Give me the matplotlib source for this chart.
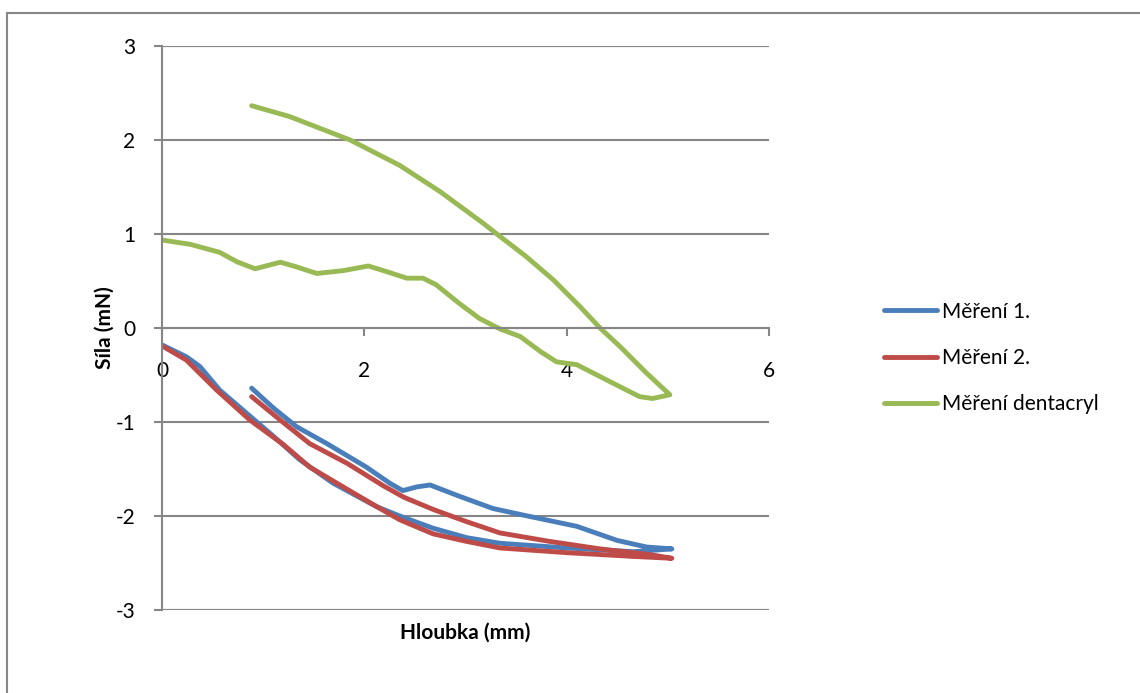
import matplotlib.pyplot as plt
from matplotlib.patches import Rectangle

plt.rcParams['font.family'] = ['Lato', 'DejaVu Sans']

# Měření 1. - one loop: loading branch from 0, then return branch back to ~0.9
m1_x = [0.0, 0.24, 0.375, 0.57, 0.84, 1.10, 1.36, 1.69, 2.12, 2.35, 2.68, 3.01, 3.34, 4.0, 4.66, 5.04,
        4.79, 4.5, 4.10, 3.57, 3.27, 2.94, 2.65, 2.52, 2.38, 2.25, 2.02, 1.63, 1.33, 1.10, 0.886]
m1_y = [-0.18, -0.305, -0.41, -0.66, -0.91, -1.15, -1.40, -1.65, -1.90, -2.0, -2.13, -2.23, -2.29, -2.34, -2.38, -2.35,
        -2.33, -2.26, -2.11, -1.99, -1.92, -1.79, -1.67, -1.69, -1.73, -1.65, -1.48, -1.23, -1.05, -0.85, -0.64]

# Měření 2.
m2_x = [0.0, 0.24, 0.54, 0.87, 1.20, 1.46, 1.79, 2.09, 2.35, 2.68, 3.01, 3.34, 4.0, 4.66, 5.04,
        4.82, 4.33, 3.83, 3.34, 3.01, 2.68, 2.39, 2.19, 1.83, 1.46, 1.17, 0.886]
m2_y = [-0.19, -0.34, -0.66, -0.98, -1.24, -1.48, -1.69, -1.88, -2.04, -2.19, -2.27, -2.34, -2.39, -2.43, -2.45,
        -2.41, -2.35, -2.27, -2.18, -2.06, -1.93, -1.80, -1.68, -1.44, -1.23, -0.98, -0.73]

# Měření dentacryl
md_x = [0.0, 0.28, 0.57, 0.74, 0.92, 1.17, 1.33, 1.53, 1.79, 2.04, 2.22, 2.42, 2.58, 2.71, 2.94, 3.14, 3.34, 3.54,
        3.74, 3.90, 4.10, 4.39, 4.72, 4.85, 5.02,
        4.79, 4.53, 4.33, 4.13, 3.87, 3.60, 3.31, 3.18, 2.75, 2.35, 1.86, 1.26, 0.886]
md_y = [0.936, 0.89, 0.805, 0.705, 0.63, 0.70, 0.65, 0.58, 0.61, 0.66, 0.60, 0.53, 0.53, 0.46, 0.26, 0.10, -0.01, -0.09,
        -0.25, -0.36, -0.39, -0.55, -0.73, -0.75, -0.71,
        -0.48, -0.20, 0.0, 0.23, 0.51, 0.76, 1.0, 1.11, 1.45, 1.73, 2.0, 2.25, 2.365]

labels = ['Měření 1.', 'Měření 2.', 'Měření dentacryl']
colors = ['#4A7EBB', '#BE4B48', '#98B954']

fig = plt.figure(figsize=(11.4, 6.93), dpi=100)
fig.patches.append(Rectangle((7 / 1140, -0.1), 1.2, (693 - 13) / 693 + 0.1, transform=fig.transFigure,
                             fill=False, edgecolor='#868686', linewidth=1.5))

ax = fig.add_axes([162 / 1140, 1 - 610 / 693, (769 - 162) / 1140, (610 - 46) / 693])

for xs, ys, lab, c in zip([m1_x, m2_x, md_x], [m1_y, m2_y, md_y], labels, colors):
    ax.plot(xs, ys, color=c, linewidth=3.5, label=lab, solid_capstyle='round', solid_joinstyle='round')

ax.set_xlim(0, 6)
ax.set_ylim(-3, 3)
ax.set_xticks([0, 2, 4, 6])
ax.set_yticks([-3, -2, -1, 0, 1, 2, 3])
ax.set_yticklabels(['-3', '-2', '-1', '0', '1', '2', '3'])

ax.spines['right'].set_visible(False)
ax.spines['top'].set_visible(False)
ax.spines['bottom'].set_position(('data', 0))
for s in ['left', 'bottom']:
    ax.spines[s].set_color('#868686')
    ax.spines[s].set_linewidth(1.5)

ax.yaxis.grid(True, color='#868686', linewidth=1.5)
ax.set_axisbelow(True)
ax.axhline(-3, color='#868686', linewidth=1.5, zorder=0)
ax.axhline(3, color='#868686', linewidth=1.5, zorder=0)

ax.tick_params(axis='y', length=6, width=1.5, color='#868686', labelsize=15, pad=13)
ax.tick_params(axis='x', length=6, width=1.5, color='#868686', labelsize=15, pad=17.5)

ax.set_xlabel('Hloubka (mm)', fontsize=15, fontweight='bold')
ax.xaxis.set_label_coords(0.5, -0.023)
ax.set_ylabel('Síla (mN)', fontsize=15, fontweight='bold')
ax.yaxis.set_label_coords(-0.078, 0.5)

fig.legend(loc='upper left', bbox_to_anchor=(865 / 1140, 1 - 283 / 693), frameon=False,
           fontsize=15, handlelength=2.55, handletextpad=0.25, labelspacing=1.26)

plt.savefig('out.png', dpi=100)
